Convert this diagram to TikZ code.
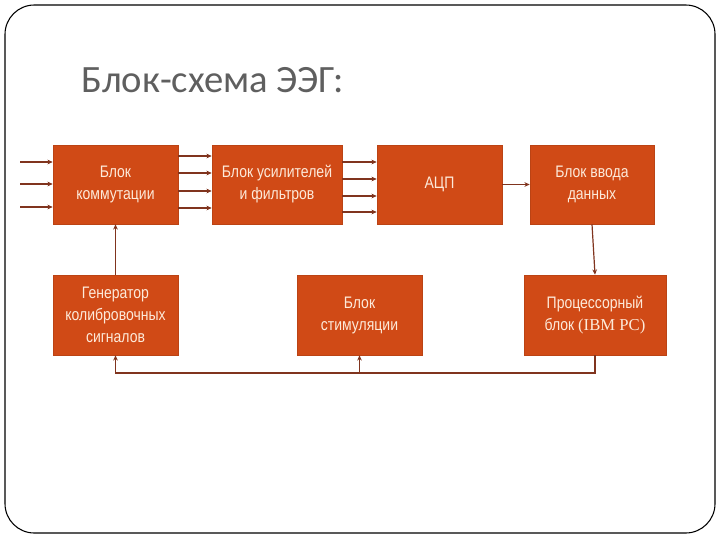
\documentclass[tikz,border=0pt]{standalone}
\usepackage{fontspec}
\setmainfont{Liberation Sans}
\newfontfamily\titlefont{Carlito}
\newfontfamily\boxfont[FakeStretch=0.84]{Liberation Sans}
\newfontfamily\pcfont{Liberation Serif}
\usetikzlibrary{arrows.meta, calc}

\definecolor{blockfill}{RGB}{208,74,22}
\definecolor{blocktext}{RGB}{253,234,218}
\definecolor{wirecol}{RGB}{128,52,30}
\definecolor{titlegray}{RGB}{95,95,95}

\begin{document}
\begin{tikzpicture}[x=0.75pt, y=-0.75pt]
    \tikzstyle{block} = [rectangle, minimum height=59.25pt, inner sep=0pt, align=center, draw=blockfill!90!black, line width=0.4pt, fill=blockfill, text=blocktext, font=\boxfont\fontsize{12.5}{16.5}\selectfont]
    \tikzstyle{wire} = [draw=wirecol, line width=0.9pt, -{Stealth[length=4pt, width=3.5pt]}]

    \useasboundingbox (0,0) rectangle (720,540);
    \draw [line width=0.8pt, rounded corners=22pt] (5,5) rectangle (715,533);
    \node (title) [anchor=base west, inner sep=0pt, text=titlegray, font=\titlefont\fontsize{29}{32}\selectfont] at (81,92) {Блок-схема ЭЭГ:};

    \node (komm) [block, minimum width=93.75pt] at (115.5,184.5) {Блок\\коммутации};
    \node (usil) [block, minimum width=97.5pt] at (277,184.5) {Блок усилителей\\и фильтров};
    \node (acp) [block, minimum width=93.75pt] at (439.5,184.5) {АЦП};
    \node (vvod) [block, minimum width=93pt] at (592,184.5) {Блок ввода\\данных};
    \node (gen) [block, minimum width=93.75pt, minimum height=60pt] at (115.5,315) {Генератор\\колибровочных\\сигналов};
    \node (stim) [block, minimum width=93.75pt, minimum height=60pt] at (359.5,315) {Блок\\стимуляции};
    \node (proc) [block, minimum width=106.5pt, minimum height=60pt] at (595,315) {Процессорный\\блок {\pcfont(IBM PC)}};

    \coordinate (src) at (20,184.5);
    \coordinate (loop) at (0,373);

    \foreach \dy in {-22.5,-0.5,22.5}
        \draw [wire] ($(src)+(0,\dy)$) -- ($(komm.west)+(0,\dy)$);
    \foreach \dy in {-28.5,-11.5,6.5,23.5}
        \draw [wire] ($(komm.east)+(0,\dy)$) -- ($(usil.west)+(0,\dy)$);
    \foreach \dy in {-22.5,-5.5,11.5,27.5}
        \draw [wire] ($(usil.east)+(0,\dy)$) -- ($(acp.west)+(0,\dy)$);
    \draw [wire] (acp) -- (vvod);
    \draw [wire] (vvod.south) -- (proc.north);
    \draw [wire] (gen) -- (komm);
    \draw [wire] (proc.south) -- (proc.south |- loop) -| (gen.south);
    \draw [wire] (stim.south |- loop) -- (stim.south);
\end{tikzpicture}
\end{document}
